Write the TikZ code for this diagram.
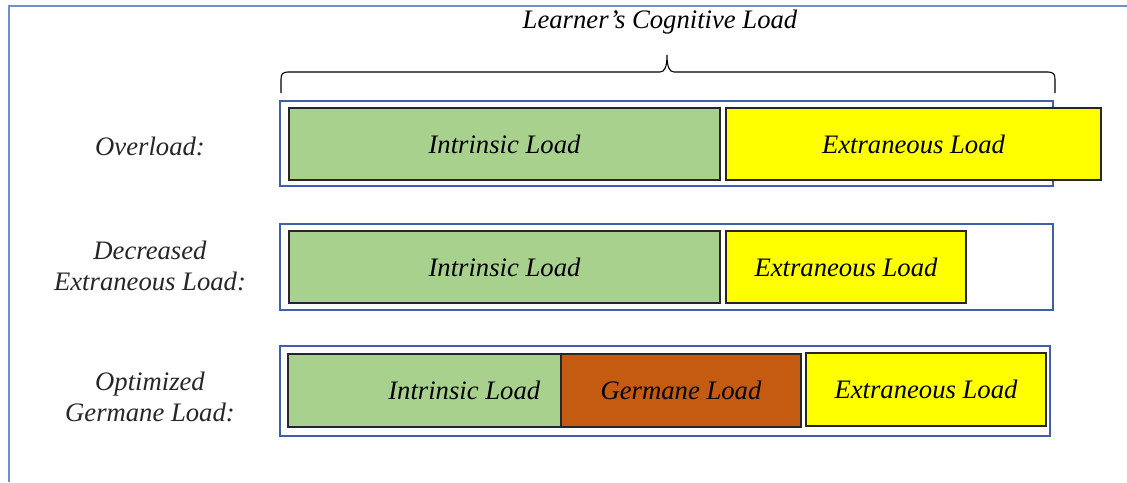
\documentclass[tikz,border=0pt]{standalone}
\usepackage{fontspec}
\setmainfont{Liberation Serif}
\usetikzlibrary{fit}

\definecolor{intrinsic}{HTML}{A9D18E}
\definecolor{extraneous}{HTML}{FFFF00}
\definecolor{germane}{HTML}{C55A11}
\definecolor{rowblue}{HTML}{3F60A6}
\definecolor{frameblue}{HTML}{7090C8}

\begin{document}
\begin{tikzpicture}[x=0.75pt,y=-0.75pt,
	txt/.style={font=\fontsize{20}{23}\selectfont\itshape},
	load/.style={draw=black!85, line width=1.8pt, inner sep=0pt},
	row/.style={draw=rowblue, line width=2pt, inner sep=0pt},
	lbl/.style={txt, align=center, text=black!85}]
	\useasboundingbox (0,0) rectangle (1127,482);
	\draw[frameblue, line width=2.2pt] (9,482) -- (9,6) -- (1127,6);
	\node[txt] (title) at (660,22) {Learner’s Cognitive Load};
	\draw[line width=0.8pt] (281,93) -- (281,79) .. controls (281,74) and (283,72) .. (288,72) -- (660,72)
		.. controls (665,72) and (667,66) .. (667,55) .. controls (667,66) and (669,72) .. (674,72)
		-- (1048,72) .. controls (1053,72) and (1055,74) .. (1055,79) -- (1055,93);
	% overload
		\node[lbl] (lov) at (150,146) {Overload:};
		\node[row, fit={(280,101) (1053,186)}] (ov) {};
		\node[load, fill=intrinsic, fit={(289,108) (720,180)}, label={[txt]center:Intrinsic Load}] (int1) {};
		\node[load, fill=extraneous, fit={(726,108) (1101,180)}, label={[txt]center:Extraneous Load}] (ext1) {};
	% decreased extraneous
		\node[lbl] (ldec) at (150,266) {Decreased\\Extraneous Load:};
		\node[row, fit={(280,224) (1053,310)}] (dec) {};
		\node[load, fill=intrinsic, fit={(289,231) (720,303)}, label={[txt]center:Intrinsic Load}] (int2) {};
		\node[load, fill=extraneous, fit={(726,231) (966,303)}, label={[txt]center:Extraneous Load}] (ext2) {};
	% optimized germane
		\node[lbl] (lopt) at (150,397) {Optimized\\Germane Load:};
		\node[row, fit={(280,346) (1050,436)}] (opt) {};
		\node[load, fill=intrinsic, fit={(288,354) (561,427)},
			label={[txt, anchor=east, xshift=-13pt]east:Intrinsic Load}] (int3) {};
		\node[load, fill=germane, fit={(561,354) (801,427)}, label={[txt]center:Germane Load}] (ger3) {};
		\node[load, fill=extraneous, fit={(806,353) (1046,426)}, label={[txt]center:Extraneous Load}] (ext3) {};
\end{tikzpicture}
\end{document}
